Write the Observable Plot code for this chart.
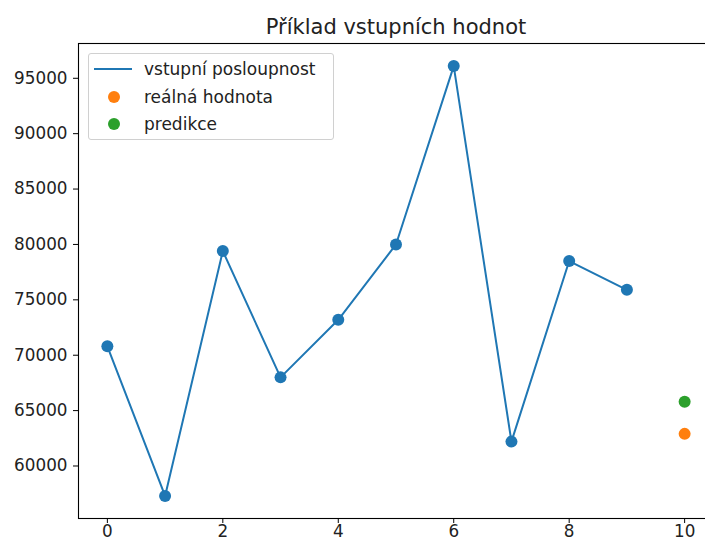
<!DOCTYPE html>
<html>
<head>
<meta charset="utf-8">
<script src="https://cdn.jsdelivr.net/npm/d3@7"></script>
<script src="https://cdn.jsdelivr.net/npm/@observablehq/plot@0.6"></script>
<style>
  body { margin: 0; background: white; overflow: hidden; }
  #wrap { position: relative; width: 705px; height: 545px; font-family: "DejaVu Sans", sans-serif; }
  #legend { position: absolute; left: 88px; top: 53px; width: 244px; height: 85px;
    border: 1px solid #d0d0d0; border-radius: 3px; background: rgba(255,255,255,0.8);
    font-size: 17px; color: #222; }
  .row { position: absolute; left: 0; height: 20px; width: 100%; }
  .row svg { position: absolute; left: 0; top: 0; }
  .row span { position: absolute; left: 55px; top: 0; line-height: 20px; white-space: nowrap; }
</style>
</head>
<body>
<div id="wrap"></div>
<script>
const titleText = "Příklad vstupních hodnot";
const steps = [0, 1, 2, 3, 4, 5, 6, 7, 8, 9];
const inputValues = [70800, 57300, 79400, 68000, 73200, 80000, 96100, 62200, 78500, 75900];
const realStep = [10];
const realValue = [62900];
const predStep = [10];
const predValue = [65800];
const xTicks = [0, 2, 4, 6, 8, 10];
const yTicks = [60000, 65000, 70000, 75000, 80000, 85000, 90000, 95000];
const legendLabels = ["vstupní posloupnost", "reálná hodnota", "predikce"];
const colors = ["#1f77b4", "#ff7f0e", "#2ca02c"];

const series = steps.map((s, i) => ({x: s, y: inputValues[i]}));
const real = realStep.map((s, i) => ({x: s, y: realValue[i]}));
const pred = predStep.map((s, i) => ({x: s, y: predValue[i]}));

const chart = Plot.plot({
  width: 705,
  height: 545,
  marginLeft: 78,
  marginRight: -8,
  marginTop: 43,
  marginBottom: 27,
  style: {fontFamily: "DejaVu Sans, sans-serif", fontSize: "16.8px", color: "#222", background: "white", overflow: "visible"},
  x: {domain: [-0.5, 10.5], label: null},
  y: {domain: [55260, 98140], label: null},
  marks: [
    Plot.axisX({ticks: xTicks, tickSize: 5, tickPadding: 2, tickFormat: d3.format("d"), stroke: "black", fill: "#222", label: null}),
    Plot.axisY({ticks: yTicks, tickSize: 5, tickPadding: 6, tickFormat: d3.format("d"), stroke: "black", fill: "#222", label: null}),
    Plot.line(series, {x: "x", y: "y", stroke: colors[0], strokeWidth: 2}),
    Plot.dot(series, {x: "x", y: "y", fill: colors[0], r: 6}),
    Plot.dot(real, {x: "x", y: "y", fill: colors[1], r: 6}),
    Plot.dot(pred, {x: "x", y: "y", fill: colors[2], r: 6}),
    Plot.frame({stroke: "black", strokeWidth: 1.1}),
    Plot.text([titleText], {frameAnchor: "top", dy: -24, fontSize: 21, fill: "#222", text: d => d})
  ]
});

const wrap = document.getElementById("wrap");
wrap.appendChild(chart);

const legend = document.createElement("div");
legend.id = "legend";
const rowTops = [5, 33, 60];
legendLabels.forEach((lab, i) => {
  const row = document.createElement("div");
  row.className = "row";
  row.style.top = rowTops[i] + "px";
  const sw = i === 0
    ? `<svg width="50" height="20"><line x1="5" x2="43" y1="10" y2="10" stroke="${colors[0]}" stroke-width="2"/></svg>`
    : `<svg width="50" height="20"><circle cx="25" cy="10" r="6" fill="${colors[i]}"/></svg>`;
  row.innerHTML = sw + `<span>${lab}</span>`;
  legend.appendChild(row);
});
wrap.appendChild(legend);
</script>
</body>
</html>
